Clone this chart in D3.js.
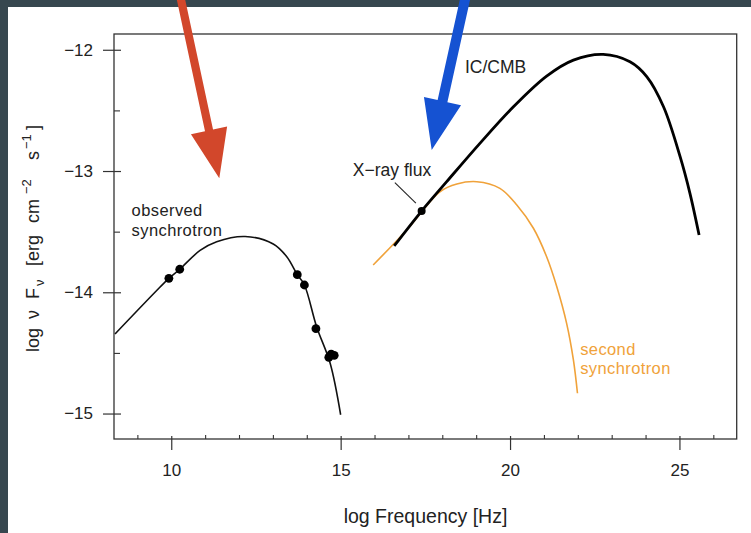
<!DOCTYPE html>
<html><head><meta charset="utf-8">
<script src="https://cdn.jsdelivr.net/npm/d3@7"></script>
<style>
html,body{margin:0;padding:0;background:#37474f;}
svg{display:block;}
text{font-family:"Liberation Sans",Arial,Helvetica,sans-serif;fill:#222;}
</style></head>
<body>
<svg id="c" width="751" height="533"></svg>
<script>
// ---- data (log frequency [Hz], log nuF_nu) ----
const syncCurveX = [8.34, 9.52, 9.93, 10.25, 10.85, 11.34, 12.18, 13.01, 13.41, 13.72, 13.93, 14.29, 14.69, 15.0];
const syncCurveY = [-14.344, -14.0, -13.885, -13.81, -13.655, -13.583, -13.54, -13.602, -13.707, -13.855, -13.94, -14.284, -14.585, -15.01];
const icX = [16.58, 17.39, 18.13, 19.11, 20.10, 21.08, 21.87, 22.75, 23.54, 24.04, 24.53, 25.02, 25.31, 25.58];
const icY = [-13.618, -13.33, -13.088, -12.772, -12.47, -12.217, -12.085, -12.038, -12.099, -12.223, -12.47, -12.882, -13.184, -13.528];
const secX = [15.96, 16.95, 17.93, 18.43, 19.02, 19.70, 20.20, 20.69, 21.08, 21.38, 21.67, 21.87, 21.99];
const secY = [-13.775, -13.486, -13.171, -13.107, -13.088, -13.143, -13.28, -13.472, -13.707, -13.954, -14.256, -14.558, -14.833];
const obsX = [9.93, 10.25, 13.72, 13.93, 14.27, 14.65, 14.72, 14.81];
const obsY = [-13.885, -13.81, -13.855, -13.94, -14.30, -14.536, -14.51, -14.52];
const xrayX = [17.39];
const xrayY = [-13.33];
const xMajor = [10, 15, 20, 25];
const xMinor = [9, 11, 12, 13, 14, 16, 17, 18, 19, 21, 22, 23, 24, 26];
const yMajor = [-12, -13, -14, -15];
const yMinor = [-12.5, -13.5, -14.5];

const svg = d3.select("#c");
// white panel inside dark frame
svg.append("rect").attr("x",8).attr("y",7).attr("width",743).attr("height",526).attr("fill","#fff");

const x = d3.scaleLinear().domain([8.31, 26.69]).range([114, 736.7]);
const y = d3.scaleLinear().domain([-11.87, -15.21]).range([34, 439]);

// plot box
svg.append("rect").attr("x",x.range()[0]).attr("y",y.range()[0])
  .attr("width",x.range()[1]-x.range()[0]).attr("height",y.range()[1]-y.range()[0])
  .attr("fill","none").attr("stroke","#333").attr("stroke-width",1.3);

const fmt = d => (d<0 ? "\u2212"+Math.abs(d) : String(d));

// x axis
const gx = svg.append("g").attr("transform",`translate(0,${y.range()[1]})`)
  .call(d3.axisBottom(x).tickValues(xMajor).tickSize(11).tickPadding(14).tickFormat(fmt));
gx.select(".domain").remove();
gx.selectAll(".tick line").attr("stroke","#333").attr("stroke-width",1.2).attr("y1",-3);
gx.selectAll(".tick text").attr("font-size",17).style("font-family",'"Liberation Sans",Arial,sans-serif').attr("fill","#222");
const gxm = svg.append("g").attr("transform",`translate(0,${y.range()[1]})`)
  .call(d3.axisTop(x).tickValues(xMinor).tickSize(4).tickFormat(""));
gxm.select(".domain").remove();
gxm.selectAll(".tick line").attr("stroke","#333").attr("stroke-width",1.1);

// y axis
const gy = svg.append("g").attr("transform",`translate(${x.range()[0]},0)`)
  .call(d3.axisLeft(y).tickValues(yMajor).tickSize(11).tickPadding(10).tickFormat(fmt));
gy.select(".domain").remove();
gy.selectAll(".tick line").attr("stroke","#333").attr("stroke-width",1.2).attr("x1",7);
gy.selectAll(".tick text").attr("font-size",17).style("font-family",'"Liberation Sans",Arial,sans-serif').attr("fill","#222");
const gym = svg.append("g").attr("transform",`translate(${x.range()[0]},0)`)
  .call(d3.axisRight(y).tickValues(yMinor).tickSize(6).tickFormat(""));
gym.select(".domain").remove();
gym.selectAll(".tick line").attr("stroke","#333").attr("stroke-width",1.1);

// axis titles
svg.append("text").attr("x",425.5).attr("y",523).attr("text-anchor","middle")
  .attr("font-size",19.5).text("log Frequency [Hz]");
const yt = svg.append("text").attr("transform","translate(39,352) rotate(-90)")
  .attr("font-size",18);
const yParts = [
  {t:"log", x:0, dy:0},
  {t:"\u03BD", x:33, dy:0},
  {t:"F", x:53, dy:0},
  {t:"\u03BD", x:66, dy:5, small:true},
  {t:"[erg", x:86, dy:-5},
  {t:"cm", x:129, dy:0},
  {t:"\u22122", x:158, dy:-8, small:true},
  {t:"s", x:192, dy:8},
  {t:"\u22121", x:203, dy:-8, small:true},
  {t:"]", x:222, dy:8}
];
yParts.forEach(p=>{
  const s = yt.append("tspan").attr("x",p.x).attr("dy",p.dy).text(p.t);
  if(p.small) s.attr("font-size",13);
});

// curves
const line = d3.line().x(d=>x(d[0])).y(d=>y(d[1])).curve(d3.curveCatmullRom.alpha(0.5));
const zip = (a,b) => a.map((v,i)=>[v,b[i]]);
svg.append("path").datum(zip(secX,secY)).attr("d",line)
  .attr("fill","none").attr("stroke","#f0a23a").attr("stroke-width",1.6);
svg.append("path").datum(zip(syncCurveX,syncCurveY)).attr("d",line)
  .attr("fill","none").attr("stroke","#111").attr("stroke-width",1.6);
svg.append("path").datum(zip(icX,icY)).attr("d",line)
  .attr("fill","none").attr("stroke","#000").attr("stroke-width",2.8);

// observed points
svg.selectAll("circle.obs").data(zip(obsX,obsY)).join("circle").attr("class","obs")
  .attr("cx",d=>x(d[0])).attr("cy",d=>y(d[1])).attr("r",4.4).attr("fill","#000");
svg.selectAll("circle.xr").data(zip(xrayX,xrayY)).join("circle").attr("class","xr")
  .attr("cx",d=>x(d[0])).attr("cy",d=>y(d[1])).attr("r",4).attr("fill","#000");

// annotations
svg.append("line").attr("x1",x(16.60)).attr("y1",y(-13.095)).attr("x2",x(17.22)).attr("y2",y(-13.265))
  .attr("stroke","#222").attr("stroke-width",1.1);
const ann = (t,xv,yv,col,fs)=>svg.append("text").attr("x",x(xv)).attr("y",y(yv))
  .attr("font-size",fs||17.5).attr("letter-spacing",fs?0.4:0)
  .attr("fill",col||"#222").style("fill",col||"#222").text(t);
ann("X\u2212ray flux",15.36,-13.04);
ann("IC/CMB",18.67,-12.19);
ann("observed",8.83,-13.375,null,16.5);
ann("synchrotron",8.83,-13.532,null,16.5);
ann("second",22.07,-14.52,"#f0a23a",16.5);
ann("synchrotron",22.07,-14.677,"#f0a23a",16.5);

// overlay arrows (pixel annotations)
function arrow(sx,sy,tx,ty,shaftW,headW,headL,col){
  const dx=tx-sx, dy=ty-sy, L=Math.hypot(dx,dy), ux=dx/L, uy=dy/L, px=-uy, py=ux;
  const bx=tx-ux*headL, by=ty-uy*headL;
  const pts=[[sx+px*shaftW/2,sy+py*shaftW/2],[bx+px*shaftW/2,by+py*shaftW/2],[bx+px*headW/2,by+py*headW/2],
    [tx,ty],[bx-px*headW/2,by-py*headW/2],[bx-px*shaftW/2,by-py*shaftW/2],[sx-px*shaftW/2,sy-py*shaftW/2]];
  svg.append("polygon").attr("points",pts.map(p=>p.join(",")).join(" ")).attr("fill",col);
}
arrow(180,-5,219.3,178.3,8.2,37,49,"#d2472b");
arrow(466,-5,431.7,150,10,38,50,"#1552d2");
</script>
</body></html>
